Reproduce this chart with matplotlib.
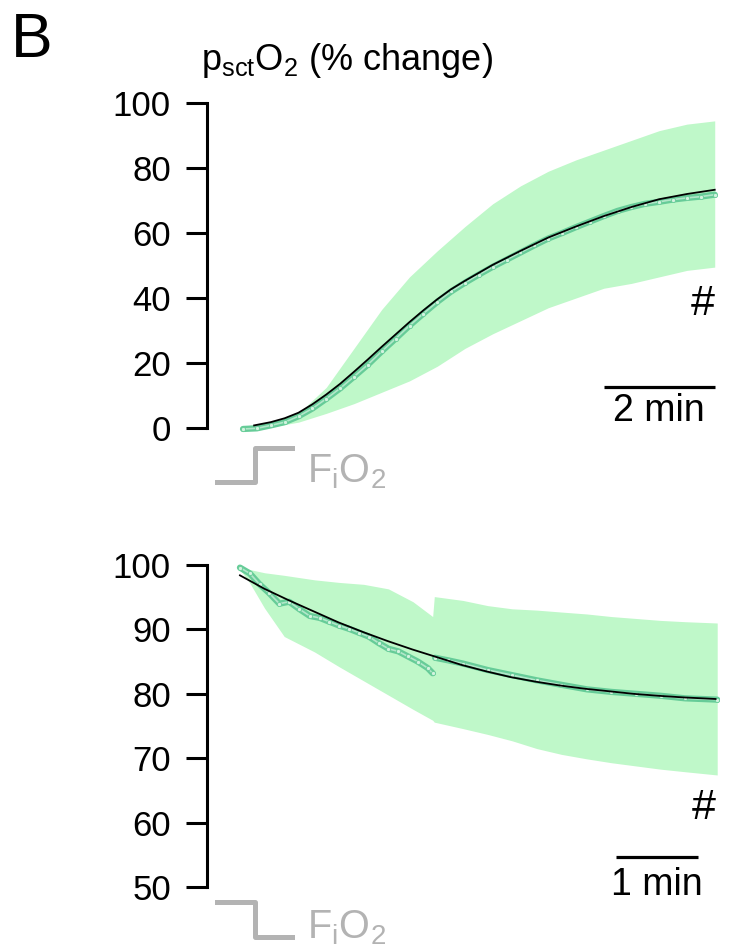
import numpy as np
import matplotlib
matplotlib.use('Agg')
import matplotlib.pyplot as plt
from matplotlib.lines import Line2D

plt.rcParams['font.family'] = ['Liberation Sans', 'DejaVu Sans']
plt.rcParams['mathtext.default'] = 'regular'

# ---- top panel data (time in min, % change) ----
top_t = [0, 0.5, 1.0, 1.5, 2.0, 2.5, 3.0, 3.5, 4.0, 4.5, 5.0, 5.5, 6.0, 6.5, 7.0, 7.5, 8.0, 8.5]
top_upper = [0.5, 1.8, 4.5, 12.5, 24.5, 36.5, 46.5, 54.5, 62.0, 69, 74.5, 79.0, 82.5, 85.5, 88.5, 91.5, 93.5, 94.5]
top_lower = [-0.5, 0.3, 1.8, 4.5, 7.5, 11, 14.5, 19, 24.5, 29, 33, 37, 40, 43, 44.5, 46.5, 48.5, 49.5]

top_mean_t = [0, 0.25, 0.5, 0.75, 1.0, 1.25, 1.5, 1.75, 2.0, 2.25, 2.5, 2.75, 3.0, 3.25, 3.5, 3.75,
              4.0, 4.25, 4.5, 4.75, 5.0, 5.25, 5.5, 5.75, 6.0, 6.25, 6.5, 6.75, 7.0, 7.25, 7.5, 7.75,
              8.0, 8.25, 8.5]
top_mean = [-0.3, -0.1, 0.8, 1.8, 3.6, 6.0, 9.0, 12.2, 15.8, 19.5, 23.6, 27.5, 31.5, 35.2, 38.8, 42.0,
            44.7, 47.2, 49.6, 51.8, 54.0, 56.2, 58.3, 60.0, 61.8, 63.5, 65.2, 66.8, 68.0, 69.0, 69.6, 70.3,
            70.8, 71.2, 71.8]

top_fit_t = [0.2, 0.5, 0.75, 1.0, 1.25, 1.5, 1.75, 2.0, 2.25, 2.5, 2.75, 3.0, 3.25, 3.5, 3.75, 4.0,
             4.5, 5.0, 5.5, 6.0, 6.5, 7.0, 7.5, 8.0, 8.5]
top_fit = [0.8, 1.8, 3.0, 4.7, 7.3, 10.3, 13.6, 17.3, 21.1, 25.0, 28.8, 32.6, 36.2, 39.6, 42.7, 45.3,
           50.2, 54.5, 58.6, 62.0, 65.2, 68.0, 70.4, 72.0, 73.3]

# ---- bottom panel data ----
bot_t = [0, 0.12, 0.3, 0.54, 0.91, 1.21, 1.51, 1.81, 2.11, 2.35, 2.37, 2.72, 3.02, 3.32, 3.62, 3.92,
         4.23, 4.53, 4.83, 5.13, 5.43, 5.82]
bot_upper = [99.6, 99.3, 98.8, 98.4, 97.7, 97.3, 97.0, 96.3, 94.3, 92.0, 95.1, 94.5, 93.7, 93.2, 93.0,
             92.7, 92.4, 92.0, 91.7, 91.4, 91.2, 91.0]
bot_lower = [99.3, 97.2, 93.3, 88.9, 86.5, 84.2, 82.0, 79.8, 77.6, 75.9, 75.6, 74.6, 73.7, 72.7, 71.5,
             70.6, 69.9, 69.3, 68.8, 68.3, 67.9, 67.4]

bot_mean1_t = [0, 0.12, 0.24, 0.36, 0.48, 0.6, 0.72, 0.85, 0.97, 1.09, 1.21, 1.33, 1.45, 1.57, 1.69,
               1.81, 1.93, 2.05, 2.17, 2.29, 2.35]
bot_mean1 = [99.6, 98.7, 97.0, 95.6, 94.0, 94.3, 93.2, 92.1, 91.8, 91.2, 90.6, 90.1, 89.5, 88.9, 87.9,
             87.0, 86.6, 85.8, 85.0, 84.0, 83.2]
bot_mean2_t = [2.38, 2.54, 2.72, 3.02, 3.32, 3.62, 3.92, 4.23, 4.53, 4.83, 5.13, 5.43, 5.82]
bot_mean2 = [85.6, 85.2, 84.7, 83.7, 82.9, 82.1, 81.4, 80.7, 80.3, 80.0, 79.7, 79.3, 79.1]

bot_fit_t = [0, 0.3, 0.6, 0.9, 1.2, 1.5, 1.8, 2.1, 2.4, 2.7, 3.0, 3.3, 3.6, 3.9, 4.2, 4.5, 4.8, 5.1, 5.4, 5.8]
bot_fit = [98.4, 96.3, 94.5, 92.8, 91.1, 89.6, 88.2, 86.9, 85.7, 84.5, 83.5, 82.6, 81.9, 81.3, 80.8,
           80.4, 80.0, 79.7, 79.45, 79.2]

band_col = '#bff8c9'
mean_edge = '#66cc98'
mean_face = '#d3f3df'
grey = '#b3b3b3'

W, H = 733, 946
fig = plt.figure(figsize=(W / 100, H / 100), dpi=100)


def fx(px):
    return px / W


def fy(py):
    return 1 - py / H


def style_axis(ax, lo, hi, ticks):
    for s in ['top', 'right', 'bottom']:
        ax.spines[s].set_visible(False)
    ax.spines['left'].set_linewidth(2.2)
    ax.spines['left'].set_bounds(lo, hi)
    ax.set_yticks(ticks)
    ax.set_xticks([])
    ax.tick_params(axis='y', length=15, width=2.2, labelsize=25, pad=11)


def draw_mean(ax, t, v):
    ax.plot(t, v, color=mean_edge, lw=4.5, solid_capstyle='round', zorder=2)
    ax.plot(t, v, color=mean_face, lw=1.2, alpha=0.7, zorder=3)
    ax.plot(t, v, 'o', ms=3, mfc=mean_face, mec=mean_edge, mew=0.6, zorder=3)


# top axes
ax1 = fig.add_axes([fx(207), fy(434.5), fx(513), (434.5 - 99.75) / H])
ax1.fill_between(top_t, top_lower, top_upper, color=band_col, lw=0, zorder=1)
draw_mean(ax1, top_mean_t, top_mean)
ax1.plot(top_fit_t, top_fit, color='black', lw=1.3, zorder=4)
ax1.set_xlim(-0.649, 8.595)
ax1.set_ylim(-2, 101)
style_axis(ax1, 0, 100, [0, 20, 40, 60, 80, 100])
ax1.plot([6.50, 8.50], [12.5, 12.5], color='black', lw=2.3, clip_on=False, solid_capstyle='butt')
ax1.text(7.5, 10.9, '2 min', ha='center', va='top', fontsize=27)
ax1.text(8.5, 38.3, '#', ha='right', va='center', fontsize=31)

# bottom axes
ax2 = fig.add_axes([fx(207), fy(899.9), fx(513), (899.9 - 558.6) / H])
ax2.fill_between(bot_t, bot_lower, bot_upper, color=band_col, lw=0, zorder=1)
draw_mean(ax2, bot_mean1_t, bot_mean1)
draw_mean(ax2, bot_mean2_t, bot_mean2)
ax2.plot(bot_fit_t, bot_fit, color='black', lw=1.3, zorder=4)
ax2.set_xlim(-0.402, 5.854)
ax2.set_ylim(48, 101)
style_axis(ax2, 50, 100, [50, 60, 70, 80, 90, 100])
ax2.plot([4.585, 5.585], [54.6, 54.6], color='black', lw=2.3, clip_on=False, solid_capstyle='butt')
ax2.text(5.085, 53.1, '1 min', ha='center', va='top', fontsize=27)
ax2.text(5.8, 62.3, '#', ha='right', va='center', fontsize=31)

# FiO2 step icons
fig.add_artist(Line2D([fx(217), fx(255), fx(255), fx(292)], [fy(482), fy(482), fy(448), fy(448)],
                      color=grey, lw=3.6))
fig.add_artist(Line2D([fx(217), fx(255), fx(255), fx(292)], [fy(902), fy(902), fy(937), fy(937)],
                      color=grey, lw=3.6))
fig.text(fx(307), fy(482), r'F$_i$O$_2$', color=grey, fontsize=28.5, va='baseline')
fig.text(fx(307), fy(938), r'F$_i$O$_2$', color=grey, fontsize=28.5, va='baseline')

# labels
fig.text(fx(11), fy(57), 'B', fontsize=45, va='baseline')
fig.text(fx(201), fy(70), r'p$_{sct}$O$_2$ (% change)', fontsize=26, va='baseline')

fig.savefig('out.png', dpi=100)
